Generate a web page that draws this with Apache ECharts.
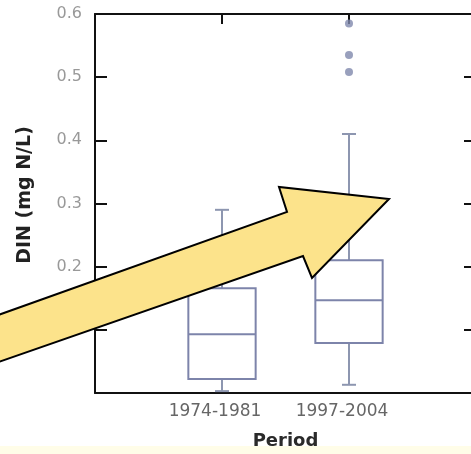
<!DOCTYPE html>
<html>
<head>
<meta charset="utf-8">
<script src="https://cdn.jsdelivr.net/npm/echarts@6/dist/echarts.min.js"></script>
<style>html,body{margin:0;padding:0;background:#fff}#c{width:471px;height:454px}</style>
</head>
<body>
<div id="c"></div>
<script>
// x positions: empty slots pad the axis on both sides
const categories = ['', '1974-1981', '1997-2004', ''];
// [categoryIndex, min, Q1, median, Q3, max]
const period1974 = [1, 0.003, 0.022, 0.093, 0.166, 0.29];
const period1997 = [2, 0.013, 0.079, 0.147, 0.21, 0.41];
const outliers1997 = [0.585, 0.535, 0.508];
const yTicks = { min: 0, max: 0.6, interval: 0.1 };

const boxData = [period1974, period1997];
const outlierData = outliers1997.map(v => [2, v]);

const boxColor = '#7d84aa';
const chart = echarts.init(document.getElementById('c'));
chart.setOption({
  animation: false,
  backgroundColor: '#ffffff',
  grid: { left: 95, right: -5, top: 14, bottom: 61, outerBoundsMode: 'none', containLabel: false },
  xAxis: [{
    type: 'category', data: categories, boundaryGap: false,
    axisLine: { onZero: false, lineStyle: { color: '#111', width: 2 } },
    axisTick: { show: false },
    axisLabel: { interval: 0, color: '#666', fontSize: 17, margin: 10, fontFamily: 'DejaVu Sans', padding: [0, 14, 0, 0] },
    name: 'Period', nameLocation: 'middle', nameGap: 39,
    nameTextStyle: { fontWeight: 'bold', fontSize: 18, color: '#2a2a2a', fontFamily: 'DejaVu Sans' },
    splitLine: { show: false }
  }, {
    type: 'category', data: categories, boundaryGap: false, position: 'top',
    axisLine: { onZero: false, lineStyle: { color: '#111', width: 2 } },
    axisTick: { show: true, inside: true, length: 10, interval: 0, lineStyle: { color: '#111', width: 2 } },
    axisLabel: { show: false },
    splitLine: { show: false }
  }],
  yAxis: [{
    type: 'value', min: yTicks.min, max: yTicks.max, interval: yTicks.interval,
    axisLine: { show: true, onZero: false, lineStyle: { color: '#111', width: 2 } },
    axisTick: { show: true, inside: true, length: 12, lineStyle: { color: '#111', width: 2 } },
    axisLabel: { color: '#999', fontSize: 16, margin: 13, showMinLabel: false, fontFamily: 'DejaVu Sans',
      formatter: v => v.toFixed(1) },
    splitLine: { show: false },
    name: 'DIN (mg N/L)', nameLocation: 'middle', nameGap: 60,
    nameTextStyle: { fontWeight: 'bold', fontSize: 19, color: '#222', fontFamily: 'DejaVu Sans', padding: [0, 0, 0, 17] }
  }, {
    type: 'value', position: 'right', min: yTicks.min, max: yTicks.max, interval: yTicks.interval,
    axisLine: { show: true, onZero: false, lineStyle: { color: '#111', width: 2 } },
    axisTick: { show: true, inside: true, length: 12, lineStyle: { color: '#111', width: 2 } },
    axisLabel: { show: false },
    splitLine: { show: false }
  }],
  series: [{
    type: 'custom',
    xAxisIndex: 0, yAxisIndex: 0,
    data: boxData,
    encode: { x: 0, y: [1, 2, 3, 4, 5] },
    renderItem: function (params, api) {
      const x = api.value(0);
      const pMin = api.coord([x, api.value(1)]);
      const pQ1 = api.coord([x, api.value(2)]);
      const pMed = api.coord([x, api.value(3)]);
      const pQ3 = api.coord([x, api.value(4)]);
      const pMax = api.coord([x, api.value(5)]);
      const band = api.size([1, 0])[0];
      const hw = band * 0.265;
      const cw = 7;
      const cx = pMed[0];
      const st = { stroke: boxColor, lineWidth: 2, fill: null };
      const wst = { stroke: '#8d96b0', lineWidth: 2 };
      return {
        type: 'group',
        children: [
          { type: 'line', shape: { x1: cx, y1: pQ3[1], x2: cx, y2: pMax[1] }, style: wst },
          { type: 'line', shape: { x1: cx, y1: pQ1[1], x2: cx, y2: pMin[1] }, style: wst },
          { type: 'line', shape: { x1: cx - cw, y1: pMax[1], x2: cx + cw, y2: pMax[1] }, style: wst },
          { type: 'line', shape: { x1: cx - cw, y1: pMin[1], x2: cx + cw, y2: pMin[1] }, style: wst },
          { type: 'rect', shape: { x: cx - hw, y: pQ3[1], width: 2 * hw, height: pQ1[1] - pQ3[1] }, style: { stroke: boxColor, lineWidth: 2, fill: '#fff' } },
          { type: 'line', shape: { x1: cx - hw, y1: pMed[1], x2: cx + hw, y2: pMed[1] }, style: st }
        ]
      };
    },
    z: 2
  }, {
    type: 'scatter',
    data: outlierData,
    symbolSize: 8,
    itemStyle: { color: '#8088ac' },
    z: 3
  }],
  graphic: [{
    type: 'rect', left: 0, top: 446, shape: { width: 471, height: 8 },
    style: { fill: '#fffde8' }, z: 1
  }, {
    type: 'polygon', z: 100,
    shape: { points: [[-10, 318], [287, 212], [279, 187], [389, 199], [312, 278], [303, 256], [-10, 365]] },
    style: { fill: '#fce38b', stroke: '#000', lineWidth: 2, lineJoin: 'miter' }
  }]
});
</script>
</body>
</html>
